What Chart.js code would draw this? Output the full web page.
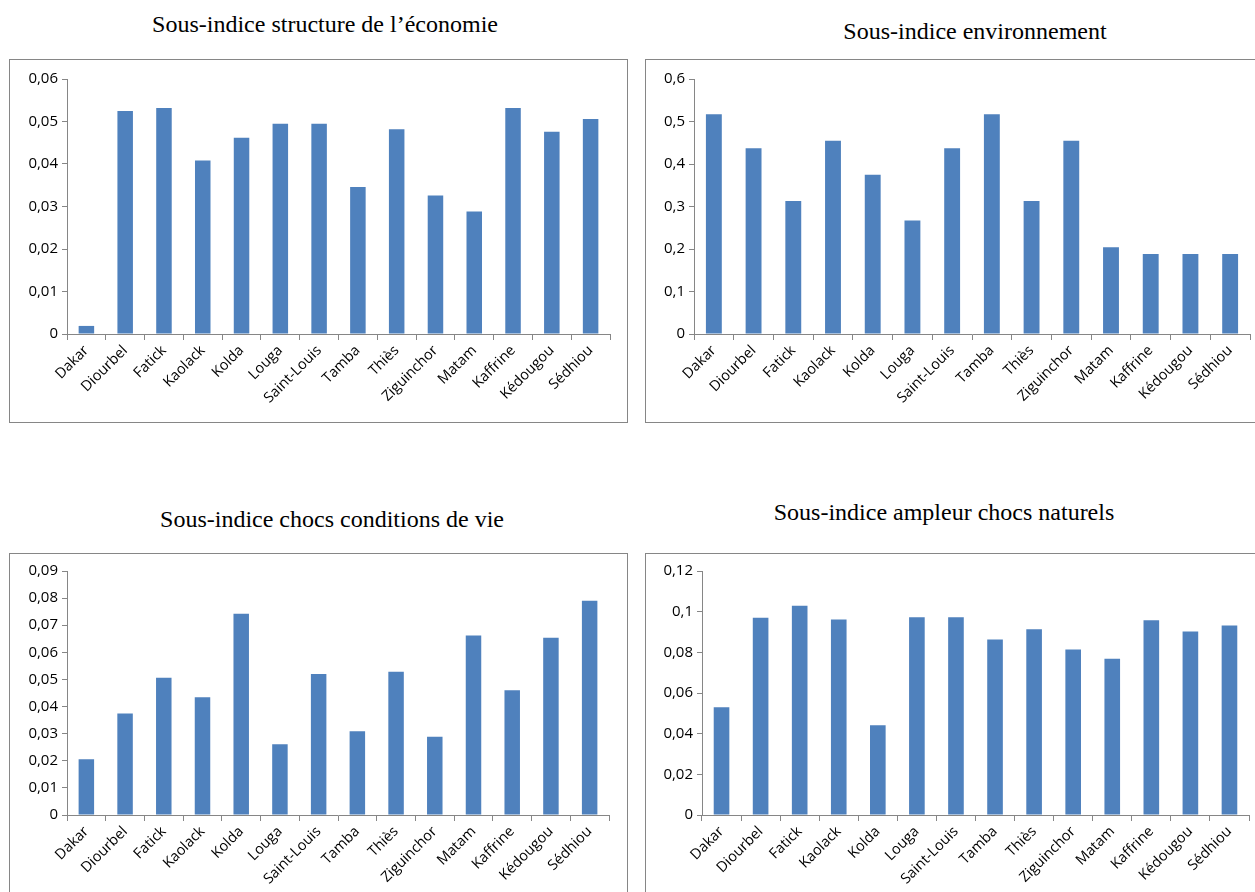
<!DOCTYPE html>
<html>
<head>
<meta charset="utf-8">
<script src="https://cdn.jsdelivr.net/npm/chart.js@4.4.1/dist/chart.umd.min.js"></script>
<style>
  html,body{margin:0;padding:0;background:#fff;overflow:hidden;width:1255px;height:892px}
  .box{position:absolute;border:1px solid #868686;box-sizing:border-box;background:#fff}
  .ttl{position:absolute;font-family:"Liberation Serif","Times New Roman",serif;font-size:24px;line-height:28px;color:#000;white-space:nowrap;transform:translateX(-50%)}
  canvas{position:absolute}
</style>
</head>
<body>

<div class="ttl" style="left:325px;top:10px">Sous-indice structure de l’économie</div>
<div class="ttl" style="left:975px;top:17px">Sous-indice environnement</div>
<div class="ttl" style="left:332px;top:505px">Sous-indice chocs conditions de vie</div>
<div class="ttl" style="left:944px;top:498px">Sous-indice ampleur chocs naturels</div>

<div class="box" style="left:9px;top:59px;width:619px;height:364px"></div>
<div class="box" style="left:645px;top:59px;width:620px;height:364px"></div>
<div class="box" style="left:9px;top:553px;width:619px;height:350px"></div>
<div class="box" style="left:645px;top:553px;width:620px;height:350px"></div>

<canvas id="c1" style="left:10px;top:60px"></canvas>
<canvas id="c2" style="left:646px;top:60px"></canvas>
<canvas id="c3" style="left:10px;top:554px"></canvas>
<canvas id="c4" style="left:646px;top:554px"></canvas>

<script>
var regions = ['Dakar','Diourbel','Fatick','Kaolack','Kolda','Louga','Saint-Louis','Tamba','Thiès','Ziguinchor','Matam','Kaffrine','Kédougou','Sédhiou'];

var structureEco = [0.0019,0.0525,0.0532,0.0408,0.0462,0.0495,0.0495,0.0346,0.0482,0.0326,0.0288,0.0532,0.0476,0.0506];
var environnement = [0.517,0.437,0.313,0.455,0.375,0.267,0.437,0.517,0.313,0.455,0.204,0.188,0.188,0.188];
var chocsVie = [0.0206,0.0374,0.0506,0.0434,0.0742,0.0261,0.0520,0.0309,0.0528,0.0289,0.0662,0.0460,0.0654,0.0790];
var chocsNaturels = [0.0530,0.0970,0.1029,0.0962,0.0442,0.0973,0.0973,0.0863,0.0913,0.0814,0.0769,0.0958,0.0903,0.0932];

var axisColor = '#868686';
var barColor = '#4F81BD';

function fmt(v){
  if (v === 0) return '0';
  return String(+v.toFixed(2)).replace('.', ',');
}

// w,h = canvas size; yw = y axis width; xh = x axis height; pt/pr = padding top/right
function makeChart(id, values, maxY, step, w, h, yw, xh, pt, pr){
  var cv = document.getElementById(id);
  cv.width = w; cv.height = h;
  cv.style.width = w + 'px'; cv.style.height = h + 'px';
  return new Chart(cv, {
    type: 'bar',
    data: {
      labels: regions,
      datasets: [{
        data: values,
        backgroundColor: barColor,
        borderWidth: 0,
        barPercentage: 0.4,
        categoryPercentage: 1
      }]
    },
    options: {
      responsive: false,
      animation: false,
      devicePixelRatio: 1,
      layout: { padding: { top: pt, right: pr, left: 0, bottom: 0 } },
      plugins: { legend: { display: false }, tooltip: { enabled: false } },
      scales: {
        x: {
          grid: { display: true, drawOnChartArea: false, color: axisColor, tickLength: 6, offset: true },
          border: { color: axisColor },
          ticks: {
            autoSkip: false, minRotation: 45, maxRotation: 45, padding: 2,
            color: '#000', font: { family: 'Open Sans, Noto Sans, sans-serif', size: 14.5 }
          },
          afterFit: function(s){ s.height = xh; }
        },
        y: {
          min: 0, max: maxY,
          grid: { display: true, drawOnChartArea: false, color: axisColor, tickLength: 5 },
          border: { color: axisColor },
          ticks: {
            stepSize: step, padding: 4, color: '#000',
            font: { family: 'Open Sans, Noto Sans, sans-serif', size: 15 },
            callback: function(v){ return fmt(v); }
          },
          afterFit: function(s){ s.width = yw; }
        }
      }
    }
  });
}

makeChart('c1', structureEco, 0.06, 0.01, 616, 361, 57, 87, 19, 16);
makeChart('c2', environnement, 0.6, 0.1, 610, 361, 48, 87, 19, 6);
makeChart('c3', chocsVie, 0.09, 0.01, 616, 340, 57, 79, 17, 17);
makeChart('c4', chocsNaturels, 0.12, 0.02, 610, 340, 56, 79, 17, 7);
</script>
</body>
</html>
